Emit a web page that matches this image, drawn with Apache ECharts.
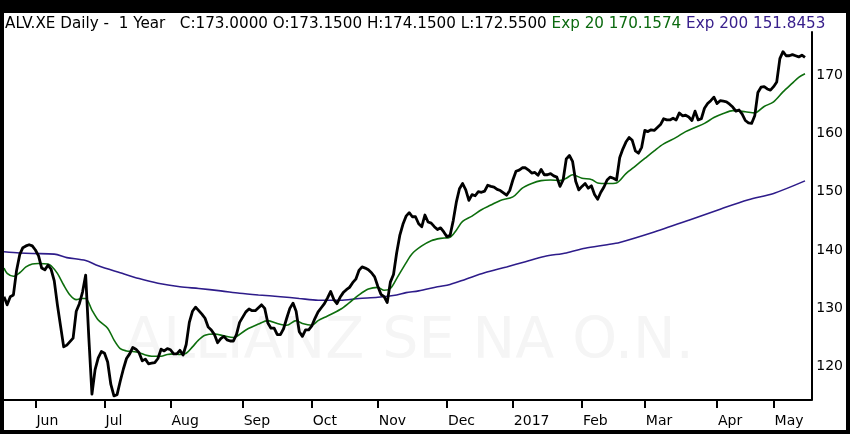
<!DOCTYPE html>
<html><head><meta charset="utf-8">
<script src="https://cdn.jsdelivr.net/npm/echarts@6/dist/echarts.min.js"></script>
<style>
html,body{margin:0;padding:0;background:#000;width:850px;height:434px;overflow:hidden}
#frame{position:absolute;left:4px;top:13px;width:842px;height:417px;background:#fff}
#chart{width:842px;height:417px}
</style></head><body>
<div id="frame"><div id="chart"></div></div>
<script>
// ---- data ----
const startDate = '2016-05-18';
const holidays = ['2016-12-26', '2017-04-14', '2017-04-17', '2017-05-01'];
const categoryCount = 258;
const monthLabels = ['Jan','Feb','Mar','Apr','May','Jun','Jul','Aug','Sep','Oct','Nov','Dec'];
const yTicks = [120, 130, 140, 150, 160, 170];
const headerMain = 'ALV.XE Daily -  1 Year   C:173.0000 O:173.1500 H:174.1500 L:172.5500';
const ema20Label = 'Exp 20 170.1574';
const ema200Label = 'Exp 200 151.8453';
const watermark = 'ALLIANZ SE NA O.N.';

const closes = [
132.0,130.6,132.0,132.3,136.5,139.2,140.4,140.7,140.9,140.7,
140.0,139.0,136.9,136.6,137.4,136.7,134.7,130.6,127.0,123.4,
123.7,124.3,124.9,129.5,130.8,132.8,135.7,125.0,115.3,119.5,
121.5,122.6,122.3,120.8,117.0,115.0,115.2,117.5,119.6,121.4,
122.2,123.3,123.0,122.4,121.0,121.3,120.5,120.6,120.7,121.4,
123.0,122.7,123.1,122.9,122.2,122.2,122.8,122.0,123.8,127.6,
129.5,130.2,129.6,129.0,128.3,126.8,126.3,125.5,124.1,124.8,
125.2,124.6,124.4,124.4,125.5,127.6,128.5,129.4,129.9,129.6,
129.6,130.1,130.6,130.0,127.5,126.6,126.6,125.5,125.5,126.5,
128.3,130.0,130.9,129.5,126.0,125.2,126.3,126.3,127.0,128.3,
129.4,130.1,130.8,131.8,132.9,131.5,130.8,131.9,132.7,133.2,
133.6,134.4,135.0,136.5,137.1,136.9,136.6,136.1,135.4,133.8,
132.4,132.0,131.0,134.5,135.8,139.5,142.5,144.4,145.8,146.4,
145.7,145.7,144.5,144.0,146.0,144.8,144.6,144.0,143.5,143.8,
143.1,142.3,142.5,145.0,148.2,150.5,151.4,150.3,148.5,149.5,
149.3,150.0,149.9,150.1,151.1,150.9,150.8,150.4,150.2,149.8,
149.4,150.2,152.0,153.5,153.7,154.1,154.1,153.7,153.2,153.3,
152.8,153.8,152.9,152.9,153.1,152.7,152.5,150.9,152.0,155.6,
156.2,155.2,151.8,150.3,150.9,151.4,150.6,151.0,149.5,148.7,
149.9,150.8,152.0,152.5,152.3,152.0,155.8,157.3,158.5,159.3,
158.8,157.0,156.6,157.6,160.5,160.3,160.6,160.5,161.0,161.5,
162.5,162.3,162.3,162.6,162.3,163.5,163.0,163.1,162.8,162.2,
163.8,162.3,162.5,164.3,165.1,165.6,166.2,165.1,165.6,165.5,
165.4,165.0,164.5,163.8,164.0,163.3,162.2,161.8,161.7,163.0,
167.0,167.9,168.0,167.6,167.4,168.0,168.8,172.8,174.0,173.3,
173.3,173.5,173.3,173.1,173.4,173.0
];

const ema20Points = [[0,136.9],[1,136.0],[3,135.5],[5,136.1],[7,137.1],[9,137.6],[11,137.7],[14,137.6],[15,137.3],[17,136.0],[19,134.0],[21,132.3],[23,131.5],[25,131.7],[26,131.7],[28,129.7],[30,128.0],[33,126.6],[35,124.6],[37,123.1],[39,122.7],[41,122.6],[43,122.4],[45,122.0],[47,121.8],[50,121.8],[52,122.1],[54,122.2],[56,122.1],[58,122.3],[60,123.4],[62,124.6],[64,125.4],[67,125.6],[70,125.3],[73,125.0],[77,126.3],[81,127.3],[84,127.9],[87,127.4],[90,127.1],[93,127.9],[95,127.4],[98,127.1],[100,127.9],[103,128.7],[107,129.8],[110,131.0],[113,132.3],[116,133.3],[119,133.6],[121,133.1],[123,133.4],[125,135.1],[128,137.8],[130,139.4],[133,140.7],[136,141.6],[139,142.0],[142,142.2],[144,143.4],[146,144.9],[149,145.8],[152,146.9],[155,147.7],[158,148.5],[162,149.1],[165,150.6],[168,151.4],[171,151.9],[174,152.0],[177,151.9],[179,152.3],[181,152.9],[184,152.3],[187,152.1],[189,151.5],[192,151.4],[195,151.5],[198,153.1],[201,154.4],[204,155.7],[207,157.0],[210,158.2],[214,159.3],[217,160.3],[220,161.0],[223,161.7],[226,162.7],[229,163.4],[232,163.9],[236,163.7],[239,163.5],[242,164.6],[245,165.4],[248,167.1],[251,168.6],[253,169.6],[255,170.2]];

const ema200Points = [[0,139.7],[5,139.5],[9,139.4],[16,139.3],[20,138.7],[26,138.2],[30,137.3],[37,136.1],[43,135.1],[49,134.3],[56,133.7],[62,133.4],[69,133.0],[75,132.6],[81,132.3],[88,132.0],[94,131.7],[100,131.4],[107,131.4],[113,131.7],[119,131.9],[125,132.3],[128,132.7],[132,133.0],[138,133.7],[142,134.1],[147,135.0],[153,136.1],[160,137.1],[166,138.0],[172,138.9],[179,139.5],[185,140.3],[192,140.9],[196,141.3],[207,143.1],[218,145.1],[228,147.0],[237,148.6],[245,149.7],[255,151.85]];

// ---- trading-day categories ----
function buildDates() {
  const out = [];
  const d = new Date(startDate + 'T00:00:00Z');
  while (out.length < categoryCount) {
    const wd = d.getUTCDay();
    const s = d.toISOString().slice(0, 10);
    if (wd !== 0 && wd !== 6 && holidays.indexOf(s) < 0) out.push(s);
    d.setUTCDate(d.getUTCDate() + 1);
  }
  return out;
}
const dates = buildDates();
const firstOfMonth = dates.map((s, i) => i > 0 && s.slice(5, 7) !== dates[i - 1].slice(5, 7));

const FONT = 'DejaVu Sans';
const HF = 15.2;
const chart = echarts.init(document.getElementById('chart'), null, {renderer: 'canvas'});
chart.setOption({
  animation: false,
  backgroundColor: '#fff',
  title: {
    left: 1, top: 4, padding: 0,
    text: '{k|' + headerMain + '} {g|' + ema20Label + '} {p|' + ema200Label + '}',
    textStyle: {
      fontFamily: FONT, fontSize: HF, fontWeight: 'normal', color: '#000',
      rich: {
        k: {fontFamily: FONT, fontSize: HF, color: '#000'},
        g: {fontFamily: FONT, fontSize: HF, color: '#0c6a10'},
        p: {fontFamily: FONT, fontSize: HF, color: '#39208c'}
      }
    }
  },
  graphic: [{
    type: 'text', x: 405, y: 330, z: 0, silent: true,
    style: {text: watermark, font: '57px "DejaVu Sans"', fill: '#f5f5f5', align: 'center', verticalAlign: 'middle'}
  }],
  grid: {left: 0, top: 19, width: 810, height: 368, containLabel: false},
  xAxis: {
    type: 'category', data: dates, boundaryGap: false,
    axisLine: {show: true, lineStyle: {color: '#000', width: 2}},
    axisTick: {show: true, length: 8, lineStyle: {color: '#000', width: 2}, interval: (i) => firstOfMonth[i]},
    axisLabel: {
      interval: (i) => firstOfMonth[i], align: 'left', margin: 14, padding: [0, 0, 0, 1],
      color: '#000', fontSize: 14, fontFamily: FONT,
      formatter: (v) => { const m = +v.slice(5, 7) - 1; return m === 0 ? v.slice(0, 4) : monthLabels[m]; }
    },
    splitLine: {show: false}
  },
  yAxis: {
    type: 'value', position: 'right', min: 114.29, max: 177.37,
    axisLine: {show: true, lineStyle: {color: '#000', width: 2}},
    axisTick: {show: false},
    splitLine: {show: false},
    axisLabel: {customValues: yTicks, margin: 5, color: '#000', fontSize: 14, fontFamily: FONT}
  },
  series: [
    {name: 'EMA200', type: 'line', data: ema200Points, smooth: 0.3, showSymbol: false, silent: true,
     lineStyle: {color: '#2e1c8a', width: 1.6}, z: 2},
    {name: 'EMA20', type: 'line', data: ema20Points, smooth: 0.3, showSymbol: false, silent: true,
     lineStyle: {color: '#0d6e0d', width: 1.6}, z: 3},
    {name: 'Close', type: 'line', data: closes, showSymbol: false, silent: true,
     lineStyle: {color: '#000', width: 2.8, join: 'round'}, z: 4}
  ]
});
</script>
</body></html>
